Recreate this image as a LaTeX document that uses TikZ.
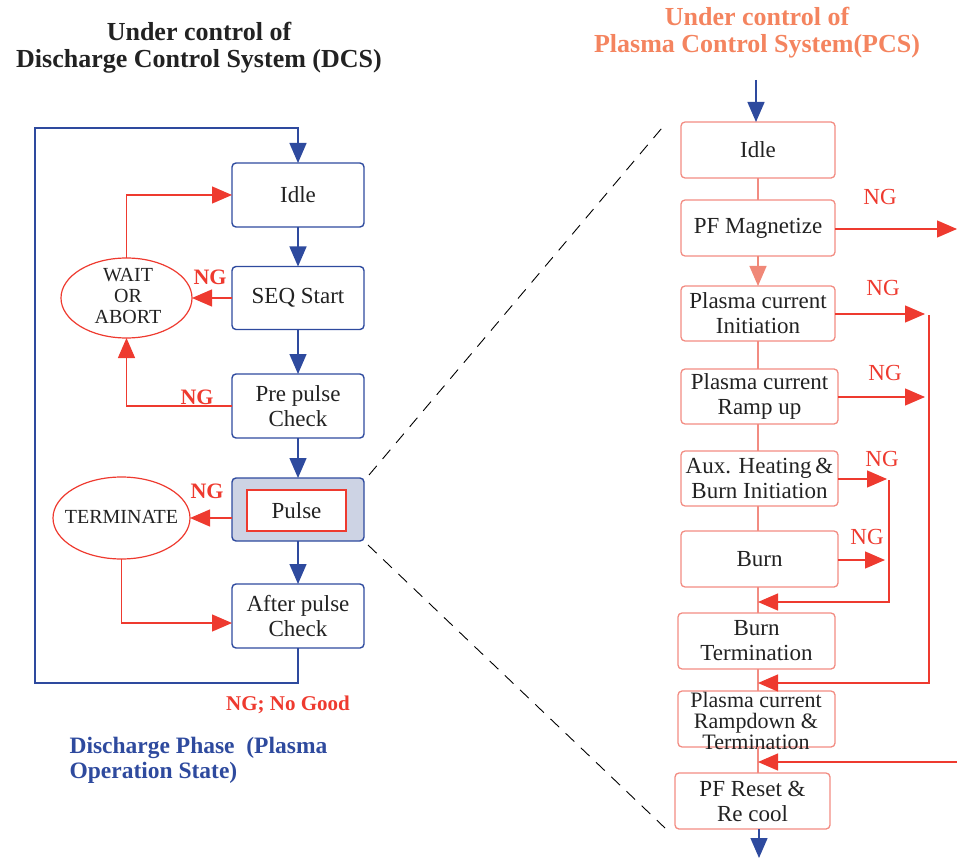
\documentclass[tikz,border=0pt]{standalone}
\usepackage{fontspec}
\setmainfont{Liberation Serif}
\usetikzlibrary{shapes.geometric,arrows.meta}
\definecolor{dblue}{HTML}{2E4A9E}
\definecolor{nred}{HTML}{EE3A2F}
\definecolor{salm}{HTML}{F28C82}
\definecolor{salarr}{HTML}{F08878}
\definecolor{orng}{HTML}{F4845F}
\definecolor{pfill}{HTML}{CDD3E4}
\definecolor{txt}{HTML}{222222}
\newcommand\bxfont{\fontsize{23}{25}\selectfont}
\newcommand\elfont{\fontsize{20}{21}\selectfont}
\begin{document}
\begin{tikzpicture}[x=1pt,y=-1pt,
  tip/.style={-{Triangle[length=20pt,width=17pt]}},
  lbox/.style={draw=dblue,line width=1.4pt,rounded corners=4pt,outer sep=0pt,inner sep=1pt,
    minimum width=132pt,minimum height=64pt,align=center,font=\bxfont,text=txt},
  rbox/.style={draw=salm,line width=1.3pt,rounded corners=4pt,outer sep=0pt,inner sep=1pt,
    minimum width=157pt,minimum height=56pt,align=center,font=\bxfont,text=txt},
  ell/.style={draw=nred,line width=1.2pt,ellipse,inner sep=0pt,outer sep=0pt},
  bluearr/.style={draw=dblue,line width=1.4pt,tip},
  redarr/.style={draw=nred,line width=1.3pt,tip},
  pline/.style={draw=salm,line width=1.3pt},
  ngb/.style={text=nred,font=\bfseries\fontsize{22}{24}\selectfont},
  ngr/.style={text=nred,font=\fontsize{23}{25}\selectfont},
  ttl/.style={font=\bfseries\fontsize{26}{27}\selectfont,align=center},
  dsh/.style={draw=black,line width=0.9pt,dash pattern=on 12pt off 9pt}
]
\useasboundingbox (0,0) rectangle (957,858);

% titles
\node[ttl,text=txt] (t1) at (199,48) {Under control of\\Discharge Control System (DCS)};
\node[ttl,text=orng] (t2) at (757,33) {Under control of\\Plasma Control System(PCS)};

% left boxes
\node[lbox] (idle) at (298,195) {Idle};
\node[lbox,minimum height=63pt] (seq) at (298,298) {SEQ Start};
\node[lbox] (pre) at (298,406) {Pre pulse\\Check};
\node[lbox,fill=pfill,minimum height=63pt] (pulse) at (298,509.5) {};
\node[draw=nred,line width=1.2pt,fill=white,minimum width=99pt,minimum height=41pt,inner sep=0pt,outer sep=0pt,font=\bxfont,text=txt] (pin) at (296.5,510.5) {Pulse};
\node[lbox] (after) at (298,616) {After pulse\\Check};

% ellipses
\node[ell,minimum width=131pt,minimum height=80pt] (wait) at (126.5,298) {};
\node[font=\elfont,text=txt,align=center] (waitt) at (128,296) {WAIT\\OR\\ABORT};
\node[ell,minimum width=137pt,minimum height=82pt] (term) at (121.5,518) {};
\node[font=\elfont,text=txt] (termt) at (121.5,517) {TERMINATE};

% left arrows
\draw[bluearr] (idle.south) -- (seq.north);
\draw[bluearr] (seq.south) -- (pre.north);
\draw[bluearr] (pre.south) -- (pulse.north);
\draw[bluearr] (pulse.south) -- (after.north);
\coordinate (lbl) at (35,683);
\coordinate (ltl) at (35,128);
\draw[bluearr] (after.south) |- (lbl) -- (ltl) -| (idle.north);

\draw[redarr] (seq.west) -- (wait.east);
\draw[redarr] (wait.north) |- (idle.west);
\draw[redarr] (pre.west) -| (wait.south);
\draw[redarr] (term.east -| pulse.west) -- (term.east);
\draw[redarr] (term.south) |- ([yshift=-7pt]after.west);

\node[ngb] (ng1) at (210,277) {NG};
\node[ngb] (ng2) at (197,397) {NG};
\node[ngb] (ng3) at (207,491) {NG};
\node[ngb,font=\bfseries\fontsize{21}{23}\selectfont] (ngd) at (288,705) {NG; No Good};
\node[text=dblue,font=\bfseries\fontsize{23.5}{25}\selectfont,align=left,anchor=west] (phase) at (66,760) {Discharge Phase\ \ (Plasma\\Operation State)};

% right boxes
\node[rbox,minimum width=154pt] (ridle) at (758,150) {Idle};
\node[rbox,minimum width=154pt] (pfmag) at (758,228) {PF Magnetize};
\node[rbox,minimum width=154pt,minimum height=55pt] (init) at (758,313.5) {Plasma current\\Initiation};
\node[rbox,minimum height=55pt] (ramp) at (759.5,396.5) {Plasma current\\Ramp up};
\node[rbox,minimum height=55pt] (aux) at (759.5,478.5) {Aux. Heating\,\&\\Burn Initiation};
\node[rbox] (burn) at (759.5,559) {Burn};
\node[rbox] (bterm) at (756.5,641) {Burn\\Termination};
\node[rbox] (rdown) at (756.5,719) {};
\node[font=\fontsize{22}{21}\selectfont,text=txt,align=center,inner sep=0pt] (rdownt) at (756,721) {Plasma current\\Rampdown \&\\Termination};
\node[rbox,minimum width=155pt] (pfres) at (752.5,801) {PF Reset \&\\Re cool};

% right connectors
\coordinate (rtop) at (756,80);
\draw[bluearr] (rtop) -- (rtop |- ridle.north);
\draw[pline] (ridle.south) -- (pfmag.north);
\draw[draw=salarr,line width=1.3pt,-{Triangle[length=20pt,width=17pt]}] (pfmag.south) -- (init.north);
\draw[pline] (init.south) -- (init.south |- ramp.north);
\draw[pline] (init.south |- ramp.south) -- (init.south |- aux.north);
\draw[pline] (init.south |- aux.south) -- (init.south |- burn.north);
\draw[pline] (init.south |- burn.south) -- (init.south |- bterm.north);
\draw[pline] (init.south |- bterm.south) -- (init.south |- rdown.north);
\draw[pline] (init.south |- rdown.south) -- (init.south |- pfres.north);
\coordinate (rbot) at (759,858);
\draw[bluearr] (rbot |- pfres.south) -- (rbot);

% NG branches right
\coordinate (e1) at (957,229);
\draw[redarr] (pfmag.east |- e1) -- (e1);
\coordinate (e2) at (925,314);
\draw[redarr] (init.east |- e2) -- (e2);
\coordinate (e3) at (925,397);
\draw[redarr] (ramp.east |- e3) -- (e3);
\coordinate (v1t) at (929,315);
\coordinate (v1b) at (929,683);
\coordinate (v1e) at (758,683);
\draw[redarr] (v1t) -- (v1b) -- (v1e);
\coordinate (e4) at (887,479);
\draw[redarr] (aux.east |- e4) -- (e4);
\coordinate (e5) at (885,560);
\draw[redarr] (burn.east |- e5) -- (e5);
\coordinate (v2t) at (889,480);
\coordinate (v2b) at (889,602);
\coordinate (v2e) at (758,602);
\draw[redarr] (v2t) -- (v2b) -- (v2e);
\coordinate (e6s) at (957,762);
\coordinate (e6e) at (758,762);
\draw[redarr] (e6s) -- (e6e);

\node[ngr] (n1) at (880,197) {NG};
\node[ngr] (n2) at (883,288) {NG};
\node[ngr] (n3) at (885,373) {NG};
\node[ngr] (n4) at (882,459) {NG};
\node[ngr] (n5) at (867,537) {NG};

% dashed zoom lines
\coordinate (d1) at (369,475);
\coordinate (d2) at (667,122);
\coordinate (d3) at (368,545);
\coordinate (d4) at (665,828);
\draw[dsh] (d1) -- (d2);
\draw[dsh] (d3) -- (d4);
\end{tikzpicture}
\end{document}
